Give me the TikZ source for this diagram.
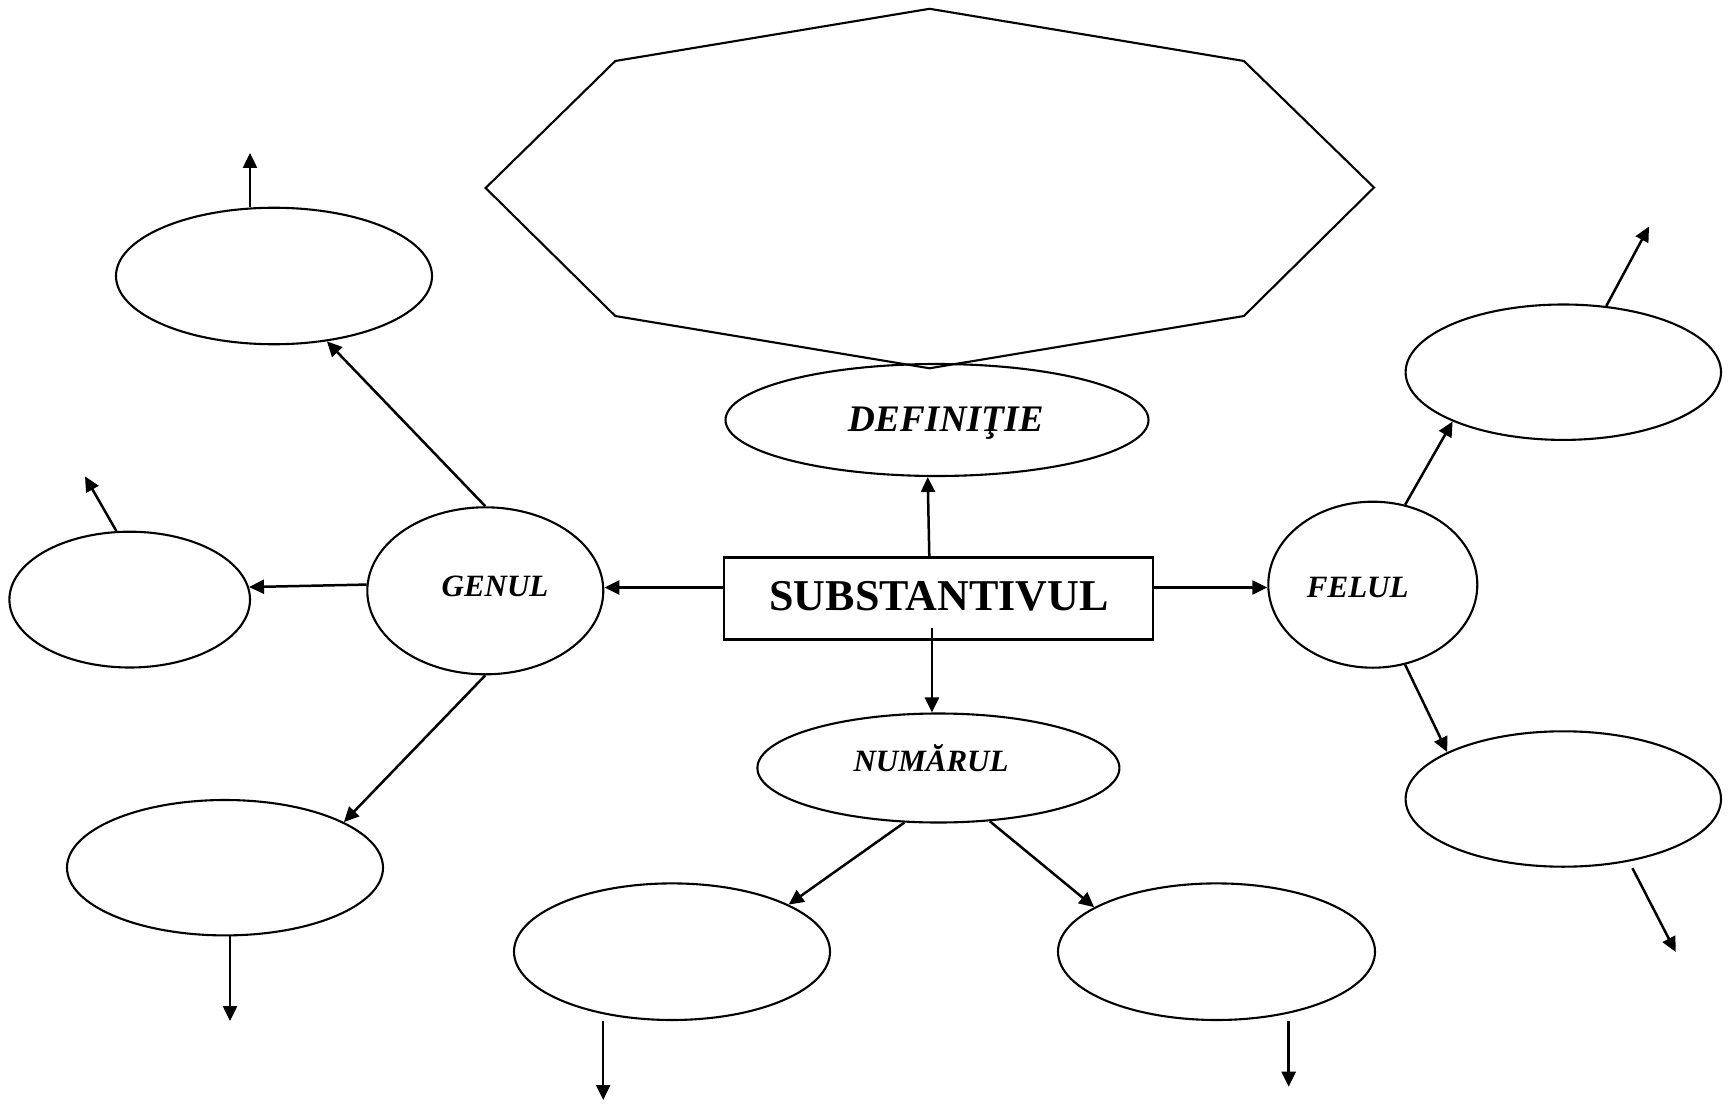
\documentclass[tikz,border=0pt]{standalone}
\usepackage{fontspec}
\setmainfont{Liberation Serif}
\usetikzlibrary{shapes.geometric,arrows.meta}
\begin{document}
\begin{tikzpicture}[x=1pt,y=-1pt,
  oval/.style={draw, ellipse, inner sep=0pt, line width=2.1pt},
  conn/.style={-{Triangle[length=15pt,width=14pt]}, line width=2.5pt},
  lbl/.style={font=\fontsize{31pt}{34pt}\selectfont\bfseries\itshape, anchor=base, inner sep=0pt}]
\useasboundingbox[fill=white] (0,0) rectangle (1729,1107);

% octagon
\draw[line width=2.1pt] (929.6,8.8) -- (615.3,61) -- (485.6,188) -- (615.3,316) -- (929.5,368.3)
  -- (1243.9,316) -- (1374,187.5) -- (1243.9,61) -- cycle;

% main nodes
\node[oval, minimum width=423pt, minimum height=112pt] (def) at (937,420) {};
\node[draw, rectangle, minimum width=429pt, minimum height=82pt, line width=2.1pt, inner sep=0pt] (sub) at (938.9,598.5) {};
\node[oval, minimum width=236pt, minimum height=167pt] (genul) at (485.3,590.8) {};
\node[oval, minimum width=209pt, minimum height=166pt] (felul) at (1372.8,584.7) {};
\node[oval, minimum width=362pt, minimum height=109pt] (num) at (938.4,768) {};

% empty ovals
\node[oval, minimum width=316pt, minimum height=136.5pt] (e1) at (274,276) {};
\node[oval, minimum width=240.6pt, minimum height=135.8pt] (e2) at (129.7,599.6) {};
\node[oval, minimum width=316pt, minimum height=135.4pt] (e3) at (225,867.7) {};
\node[oval, minimum width=316pt, minimum height=136.6pt] (e4) at (672,951.7) {};
\node[oval, minimum width=317pt, minimum height=136.6pt] (e5) at (1216.5,951.7) {};
\node[oval, minimum width=315.4pt, minimum height=135.4pt] (e6) at (1563.3,372.2) {};
\node[oval, minimum width=315.4pt, minimum height=135.4pt] (e7) at (1563.3,799) {};

% texts
\node[font=\fontsize{44pt}{48pt}\selectfont\bfseries, anchor=base, inner sep=0pt] (subtxt) at (939,610) {SUBSTANTIVUL};
\node[lbl, font=\fontsize{37.5pt}{40pt}\selectfont\bfseries\itshape] (deftxt) at (945.8,431.7) {DEFINIŢIE};
\node[lbl] (gentxt) at (495,596.7) {GENUL};
\node[lbl] (feltxt) at (1357.7,597.3) {FELUL};
\node[lbl] (numtxt) at (931,771.7) {NUMĂRUL};

% connectors from the centre box
\draw[conn] ([xshift=-9.6pt]sub.north) -- ([xshift=-9.3pt]def.south);
\draw[conn] ([xshift=-7pt,yshift=13pt]sub.south) -- ([xshift=-6.5pt]num.north);
\coordinate (sw) at ([yshift=11pt]sub.west);
\draw[conn] (sw) -- (sw -| genul.east);
\coordinate (se) at ([yshift=11pt]sub.east);
\draw[conn] (se) -- (se -| felul.west);

% branches
\draw[conn] (genul.north) -- (e1.-51);
\draw[conn] (genul.177) -- (e2.6);
\draw[conn] (genul.south) -- (e3.21);
\draw[conn] (num.-122) -- (e4.22);
\draw[conn] (num.-46) -- (e5.160);
\draw[conn] (felul.68) -- (e6.204);
\draw[conn] (felul.-68) -- (e7.158);

% free arrows
\coordinate (e1u) at (250,153);
\draw[conn] ([xshift=-24pt]e1.north) -- (e1u);
\coordinate (e2u) at (85,476.4);
\draw[conn] (e2.101) -- (e2u);
\coordinate (e3d) at (230,1021);
\draw[conn] ([xshift=5pt]e3.south) -- (e3d);
\coordinate (e4d) at (603.2,1100);
\draw[conn] ([xshift=-68.8pt]e4.south) -- (e4d);
\coordinate (e5d) at (1288.7,1086.7);
\draw[conn] ([xshift=72.2pt]e5.south) -- (e5d);
\coordinate (e6u) at (1649,226.5);
\draw[conn] (e6.57) -- (e6u);
\coordinate (e7d) at (1675.7,952);
\draw[conn] ([xshift=6pt,yshift=-6pt]e7.-45) -- (e7d);
\end{tikzpicture}
\end{document}
